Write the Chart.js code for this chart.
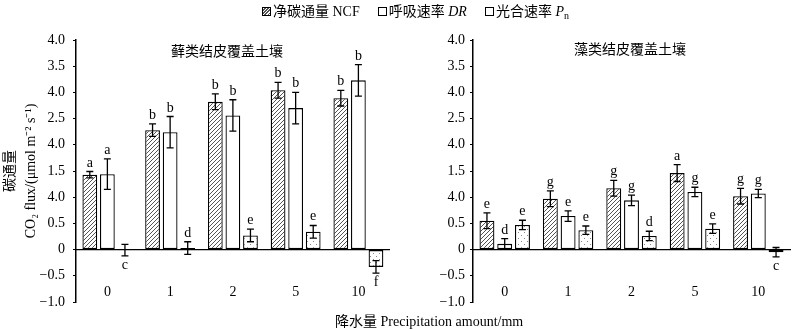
<!DOCTYPE html>
<html>
<head>
<meta charset="utf-8">
<script src="https://cdn.jsdelivr.net/npm/chart.js@4/dist/chart.umd.min.js"></script>
<style>
body{margin:0;width:800px;height:329px;position:relative;background:#fff;overflow:hidden;color:#000;
  font-family:"Liberation Serif","Noto Sans CJK SC",serif}
.box{position:absolute;top:0;width:400px;height:329px}
#legend{position:absolute;top:3px;left:262px;font-size:14px;white-space:nowrap;line-height:18px}
.sw{display:inline-block;width:7px;height:7px;border:1.3px solid #000;margin-right:2px;background:#fff;vertical-align:0}
.hat{background:repeating-linear-gradient(135deg,#fff 0 1.2px,#555 1.2px 2.2px)}
.gap{display:inline-block;width:18px}
.ptitle{position:absolute;font-size:14px;transform:translate(-50%,-50%);white-space:nowrap}
#xtitle{position:absolute;left:335px;top:313px;font-size:14px;white-space:nowrap;line-height:18px}
sub{font-size:10px;vertical-align:-3px}
</style>
</head>
<body>
<div class="box" style="left:0"><canvas id="moss"></canvas></div>
<div class="box" style="left:400px"><canvas id="algae"></canvas></div>
<div id="legend"><span class="sw hat"></span>净碳通量 NCF<span class="gap"></span><span class="sw"></span>呼吸速率&nbsp;<i>DR</i><span class="gap"></span><span class="sw"></span>光合速率&nbsp;<i>P</i><sub>n</sub></div>
<div class="ptitle" style="left:227px;top:50px">藓类结皮覆盖土壤</div>
<div class="ptitle" style="left:630px;top:48px">藻类结皮覆盖土壤</div>
<div id="xtitle">降水量 Precipitation amount/mm</div>
<script>
// 降水量 (mm)
const categories = ['0', '1', '2', '5', '10'];
// y 轴刻度（照原图）
const yTickLabels = ['−1.0', '−0.5', '0', '0.5', '4.0', '1.5', '4.0', '2.5', '4.0', '3.5', '4.0'];

// 藓类结皮
const mossNCF = [1.43, 2.28, 2.82, 3.04, 2.89];
const mossNCFErr = [0.06, 0.12, 0.15, 0.15, 0.15];
const mossNCFLetters = ['a', 'b', 'b', 'b', 'b'];
const mossDR = [1.44, 2.24, 2.56, 2.70, 3.23];
const mossDRErr = [0.29, 0.30, 0.30, 0.30, 0.30];
const mossDRLetters = ['a', 'b', 'b', 'b', 'b'];
const mossPn = [-0.01, 0.03, 0.27, 0.34, -0.33];
const mossPnErr = [0.11, 0.12, 0.12, 0.12, 0.12];
const mossPnLetters = ['c', 'd', 'e', 'e', 'f'];

// 藻类结皮
const algaeNCF = [0.55, 0.97, 1.17, 1.46, 1.02];
const algaeNCFErr = [0.15, 0.15, 0.15, 0.16, 0.15];
const algaeNCFLetters = ['e', 'g', 'g', 'a', 'g'];
const algaeDR = [0.11, 0.64, 0.94, 1.10, 1.07];
const algaeDRErr = [0.10, 0.10, 0.10, 0.09, 0.08];
const algaeDRLetters = ['d', 'e', 'g', 'g', 'g'];
const algaePn = [0.47, 0.37, 0.26, 0.40, -0.05];
const algaePnErr = [0.09, 0.08, 0.09, 0.09, 0.09];
const algaePnLetters = ['e', 'e', 'd', 'e', 'c'];

const FONT = '"Liberation Serif", "Noto Sans CJK SC", serif';

function hatch() {
    const c = document.createElement('canvas');
    c.width = 4; c.height = 4;
    const g = c.getContext('2d');
    g.fillStyle = '#fff'; g.fillRect(0, 0, 4, 4);
    g.strokeStyle = '#555'; g.lineWidth = 1;
    g.beginPath();
    g.moveTo(0, 4); g.lineTo(4, 0);
    g.moveTo(-1, 1); g.lineTo(1, -1);
    g.moveTo(3, 5); g.lineTo(5, 3);
    g.stroke();
    return g.createPattern(c, 'repeat');
}

function dots() {
    const c = document.createElement('canvas');
    c.width = 6; c.height = 6;
    const g = c.getContext('2d');
    g.fillStyle = '#fff'; g.fillRect(0, 0, 6, 6);
    g.fillStyle = '#888';
    g.fillRect(1, 1, 1, 1);
    g.fillRect(4, 4, 1, 1);
    return g.createPattern(c, 'repeat');
}

// 误差线 + 显著性字母
const errBars = {
    id: 'errBars',
    afterDatasetsDraw(chart) {
        const ctx = chart.ctx;
        const y = chart.scales.y;
        ctx.save();
        ctx.strokeStyle = '#000';
        ctx.lineWidth = 1.3;
        ctx.fillStyle = '#000';
        ctx.font = '14px ' + FONT;
        ctx.textAlign = 'center';
        chart.data.datasets.forEach((ds, i) => {
            chart.getDatasetMeta(i).data.forEach((bar, j) => {
                const v = ds.data[j], e = ds.err[j];
                const top = y.getPixelForValue(v + e);
                const bot = y.getPixelForValue(v - e);
                ctx.beginPath();
                ctx.moveTo(bar.x, top); ctx.lineTo(bar.x, bot);
                ctx.moveTo(bar.x - 3.5, top); ctx.lineTo(bar.x + 3.5, top);
                ctx.moveTo(bar.x - 3.5, bot); ctx.lineTo(bar.x + 3.5, bot);
                ctx.stroke();
                if (v > 0) {
                    ctx.textBaseline = 'alphabetic';
                    ctx.fillText(ds.letters[j], bar.x, top - 5);
                } else {
                    ctx.textBaseline = 'top';
                    ctx.fillText(ds.letters[j], bar.x, bot + 2);
                }
            });
        });
        ctx.restore();
    }
};

function Grafico(id, ncf, dr, pn, cfg) {
    const bar = {
        borderColor: '#000',
        borderWidth: 1.3,
        borderSkipped: false,
        categoryPercentage: 0.84,
        barPercentage: 0.84
    };
    return new Chart(document.getElementById(id), {
        type: 'bar',
        data: {
            labels: categories,
            datasets: [
                Object.assign({ label: '净碳通量 NCF', data: ncf[0], err: ncf[1], letters: ncf[2], backgroundColor: hatch() }, bar),
                Object.assign({ label: '呼吸速率 DR', data: dr[0], err: dr[1], letters: dr[2], backgroundColor: '#fff' }, bar),
                Object.assign({ label: '光合速率 Pn', data: pn[0], err: pn[1], letters: pn[2], backgroundColor: dots() }, bar)
            ]
        },
        options: {
            responsive: true,
            maintainAspectRatio: false,
            animation: false,
            layout: { padding: { top: 40, bottom: 27, left: 0, right: cfg.right } },
            plugins: {
                legend: { display: false },
                tooltip: { enabled: false }
            },
            scales: {
                x: {
                    position: { y: 0 },
                    grid: { display: false, drawTicks: false },
                    border: { display: true, color: '#000', width: 1.3 },
                    ticks: { padding: 34, color: '#000', font: { family: FONT, size: 14 } }
                },
                y: {
                    min: -1,
                    max: 4,
                    ticks: {
                        stepSize: 0.5,
                        padding: cfg.tickPad,
                        color: '#000',
                        font: { family: FONT, size: 14 },
                        callback: (v, i) => yTickLabels[i]
                    },
                    grid: { drawOnChartArea: false, drawTicks: true, tickLength: 3, color: '#000', lineWidth: 1 },
                    border: { color: '#000', width: 1.5 },
                    title: {
                        display: cfg.title,
                        text: ['碳通量', 'CO₂ flux/(μmol m⁻² s⁻¹)'],
                        color: '#000',
                        padding: { top: 0, bottom: 0 },
                        font: { family: FONT, size: 14, lineHeight: 1.5 }
                    },
                    afterFit: s => { s.width = cfg.axisWidth; }
                }
            }
        },
        plugins: [errBars]
    });
}

Grafico('moss',
    [mossNCF, mossNCFErr, mossNCFLetters],
    [mossDR, mossDRErr, mossDRLetters],
    [mossPn, mossPnErr, mossPnLetters],
    { axisWidth: 76, right: 6, tickPad: 8, title: true });

Grafico('algae',
    [algaeNCF, algaeNCFErr, algaeNCFLetters],
    [algaeDR, algaeDRErr, algaeDRLetters],
    [algaePn, algaePnErr, algaePnLetters],
    { axisWidth: 73, right: 7, tickPad: 5, title: false });
</script>
</body>
</html>
